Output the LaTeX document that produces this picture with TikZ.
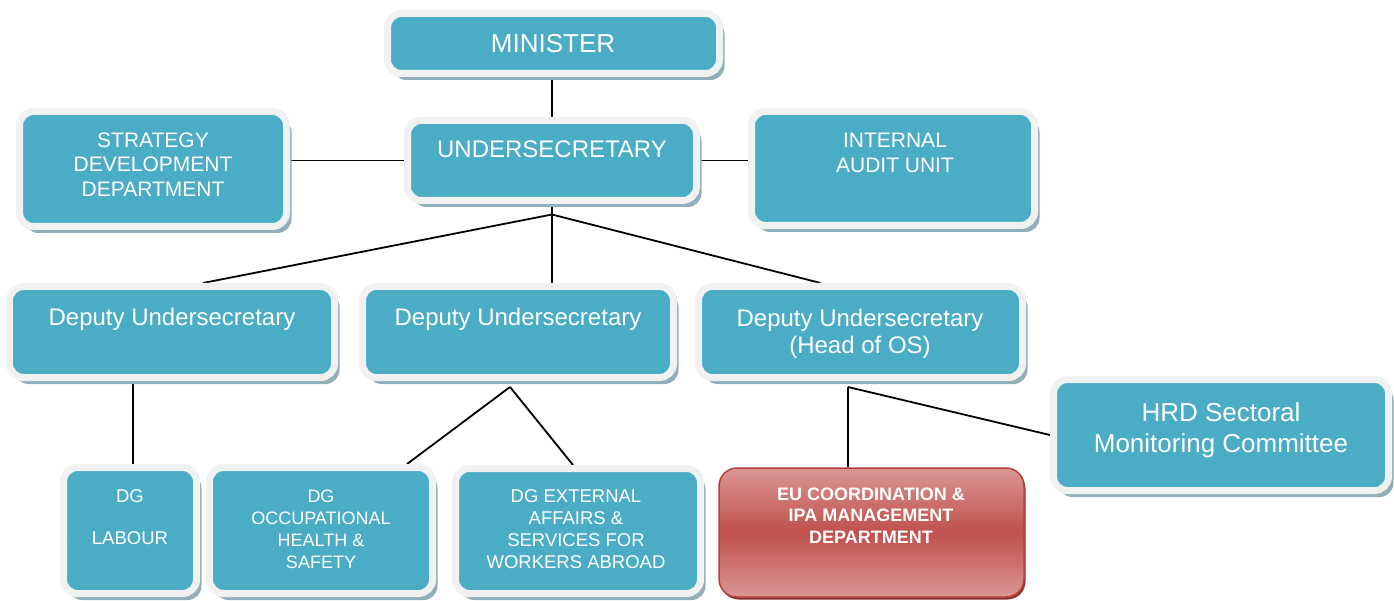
\documentclass[tikz,border=0pt]{standalone}
\usepackage{fontspec}
\setmainfont{Liberation Sans}
\usetikzlibrary{shadows,backgrounds,calc}
\definecolor{tealc}{HTML}{4BACC6}
\definecolor{framec}{HTML}{F0F1F1}
\definecolor{shadc}{HTML}{92AEB8}
\definecolor{redmid}{HTML}{C0504D}
\definecolor{redlight}{HTML}{DA9694}
\definecolor{redborder}{HTML}{B5403D}
\definecolor{redshad}{HTML}{8A3331}
\tikzset{
  orgbox/.style={draw=framec, line width=7pt, fill=tealc, rounded corners=14pt, inner sep=0pt,
    drop shadow={shadow xshift=5pt, shadow yshift=-6.5pt, fill=shadc, opacity=1}},
  redbox/.style={draw=redborder, line width=1.5pt, rounded corners=18pt, inner sep=0pt,
    top color=redlight, bottom color=redlight, middle color=redmid,
    drop shadow={shadow xshift=1.5pt, shadow yshift=-2.5pt, fill=redshad, opacity=1}},
  lbl/.style={text=white, align=center, anchor=base, inner sep=0pt},
  conn/.style={draw=black, line width=1.8pt},
}
\begin{document}
\begin{tikzpicture}[x=1pt, y=-1pt]
\useasboundingbox (0,0) rectangle (1394,601);
% boxes
\node[orgbox, minimum width=332pt, minimum height=60pt] (minister) at (553.5,43.5) {};
\node[orgbox, minimum width=289pt, minimum height=80pt] (undersec) at (552,160.5) {};
\node[orgbox, minimum width=267pt, minimum height=115pt] (strategy) at (153,169) {};
\node[orgbox, minimum width=283pt, minimum height=114pt] (audit) at (893,168.5) {};
\node[orgbox, minimum width=325pt, minimum height=91pt] (dep1) at (172,332) {};
\node[orgbox, minimum width=311pt, minimum height=91pt] (dep2) at (518,332) {};
\node[orgbox, minimum width=324pt, minimum height=91pt] (dep3) at (860.5,332) {};
\node[orgbox, minimum width=335pt, minimum height=111pt] (hrd) at (1221,435) {};
\node[orgbox, minimum width=133pt, minimum height=126pt] (dglabour) at (130,530.5) {};
\node[orgbox, minimum width=223pt, minimum height=126pt] (dgocc) at (321,530.5) {};
\node[orgbox, minimum width=245pt, minimum height=125pt] (dgext) at (578,531) {};
\node[redbox, minimum width=305pt, minimum height=129pt] (eu) at (871.5,532.5) {};
% labels (anchor=base is the baseline of the last line)
\node[lbl, font=\fontsize{26}{31}\selectfont] (minister-t) at (553,52.3) {MINISTER};
\node[lbl, font=\fontsize{24}{29}\selectfont] (undersec-t) at (552,157.6) {UNDERSECRETARY};
\node[lbl, font=\fontsize{21}{24.5}\selectfont] (strategy-t) at (153,196.5) {STRATEGY\\DEVELOPMENT\\DEPARTMENT};
\node[lbl, font=\fontsize{21}{25}\selectfont] (audit-t) at (895,172.5) {INTERNAL\\AUDIT UNIT};
\node[lbl, font=\fontsize{24}{27}\selectfont] (dep1-t) at (172,325.6) {Deputy Undersecretary};
\node[lbl, font=\fontsize{24}{27}\selectfont] (dep2-t) at (518,325.6) {Deputy Undersecretary};
\node[lbl, font=\fontsize{24}{27}\selectfont] (dep3-t) at (860,353.6) {Deputy Undersecretary\\(Head of OS)};
\node[lbl, font=\fontsize{26}{31}\selectfont] (hrd-t) at (1221,452.3) {HRD Sectoral\\Monitoring Committee};
\node[lbl, font=\fontsize{18.5}{42}\selectfont] (dglabour-t) at (130,544.6) {DG\\LABOUR};
\node[lbl, font=\fontsize{18}{22}\selectfont] (dgocc-t) at (321,568.4) {DG\\OCCUPATIONAL\\HEALTH \&\\SAFETY};
\node[lbl, font=\fontsize{18.5}{22}\selectfont] (dgext-t) at (576,568.6) {DG EXTERNAL\\AFFAIRS \&\\SERVICES FOR\\WORKERS ABROAD};
\node[lbl, font=\fontsize{18}{21.5}\selectfont\bfseries] (eu-t) at (871,543.4) {EU COORDINATION \&\\IPA MANAGEMENT\\DEPARTMENT};
% connector points
\coordinate (usb) at ([yshift=-10.5pt]undersec.south);
\coordinate (d1top) at ([xshift=31pt]dep1.north);
\coordinate (d2b) at ([xshift=-8pt,yshift=-6pt]dep2.south);
\coordinate (d3b) at ([xshift=-12.5pt,yshift=-6pt]dep3.south);
\coordinate (d1b) at ([xshift=-39pt]dep1.south);
\coordinate (occtop) at ([xshift=86pt]dgocc.north);
\coordinate (exttop) at ([xshift=-5pt]dgext.north);
\coordinate (eutop) at ([xshift=-23.5pt]eu.north);
\begin{scope}[on background layer]
  \draw[conn] (undersec.north |- minister.south) -- (undersec.north);
  \draw[conn] (undersec.west) -- (undersec.west -| strategy.east);
  \draw[conn] (undersec.east) -- (undersec.east -| audit.west);
  \draw[conn] (undersec.south) -- (usb);
  \draw[conn] (usb) -- (d1top);
  \draw[conn] (usb) -- (usb |- dep2.north);
  \draw[conn] (usb) -- ([xshift=-40pt]dep3.north);
  \draw[conn] (d1b) -- (d1b |- dglabour.north);
  \draw[conn] (d2b) -- (occtop);
  \draw[conn] (d2b) -- (exttop);
  \draw[conn] (d3b) -- (eutop);
  \draw[conn] (d3b) -- (hrd.west);
\end{scope}
\end{tikzpicture}
\end{document}
